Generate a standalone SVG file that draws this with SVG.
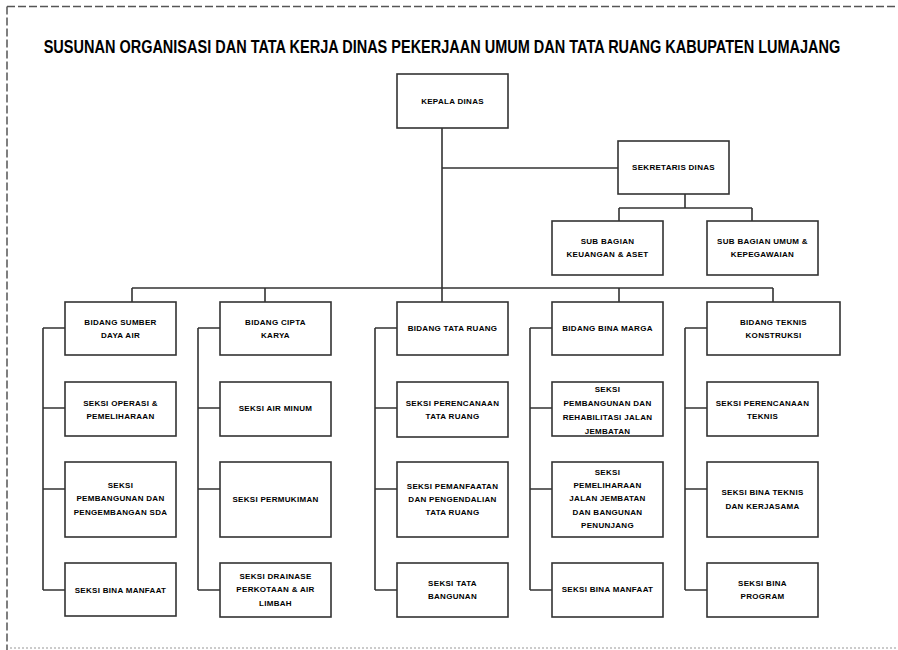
<svg xmlns="http://www.w3.org/2000/svg" width="898" height="650" viewBox="0 0 898 650">
<style>
.frame{fill:none;stroke:#555;stroke-width:1.5;stroke-dasharray:8 3}
.dot{fill:none;stroke:#bbb;stroke-width:1.5;stroke-dasharray:2 2}
.box{fill:#fff;stroke:#333;stroke-width:1.6}
.ln{fill:none;stroke:#333;stroke-width:1.6}
.t{font-family:"Liberation Sans",Arial,sans-serif;font-size:8px;font-weight:bold;letter-spacing:0.3px;text-anchor:middle;dominant-baseline:central;fill:#000}
.title{font-family:"Liberation Sans",Arial,sans-serif;font-size:14.5px;font-weight:bold;text-anchor:middle;fill:#000}
</style>
<rect width="898" height="650" fill="#fff"/>
<line class="frame" x1="7" y1="6.5" x2="898" y2="6.5"/>
<line class="frame" x1="7" y1="6.5" x2="7" y2="650"/>
<line class="dot" x1="10" y1="648" x2="898" y2="648"/>
<g transform="translate(442,53) scale(1,1.25)"><text class="title" x="0" y="0">SUSUNAN ORGANISASI DAN TATA KERJA DINAS PEKERJAAN UMUM DAN TATA RUANG KABUPATEN LUMAJANG</text></g>

<g id="connectors">
<path class="ln" d="M442,128 V302 M442,168 H618 M685,194 V208 M619,208 H752 M619,208 V221 M752,208 V221 M132,288 H773 M132,288 V302 M265,288 V302 M619,288 V302 M773,288 V302"/>
<path class="ln" d="M43,328 V590 M43,328 H65 M43,408 H65 M43,489 H65 M43,590 H65"/>
<path class="ln" d="M198,328 V590 M198,328 H220 M198,408 H220 M198,489 H220 M198,590 H220"/>
<path class="ln" d="M375,328 V590 M375,328 H397 M375,408 H397 M375,489 H397 M375,590 H397"/>
<path class="ln" d="M530,328 V590 M530,328 H552 M530,408 H552 M530,489 H552 M530,590 H552"/>
<path class="ln" d="M685,328 V590 M685,328 H707 M685,408 H707 M685,489 H707 M685,590 H707"/>
</g>

<g id="kepala"><rect class="box" x="397" y="74" width="111" height="54"/><text class="t" x="452.5" y="101">KEPALA DINAS</text></g>
<g id="sekretaris"><rect class="box" x="618" y="141" width="111" height="53"/><text class="t" x="673.5" y="167.5">SEKRETARIS DINAS</text></g>
<g id="subkeu"><rect class="box" x="552" y="221" width="111" height="54"/><text class="t" x="607.5" y="241.5">SUB BAGIAN</text><text class="t" x="607.5" y="254.5">KEUANGAN &amp; ASET</text></g>
<g id="subumum"><rect class="box" x="707" y="221" width="111" height="54"/><text class="t" x="762.5" y="241.5">SUB BAGIAN UMUM &amp;</text><text class="t" x="762.5" y="254.5">KEPEGAWAIAN</text></g>

<g id="bidang-sda"><rect class="box" x="65" y="302" width="111" height="53"/><text class="t" x="120.5" y="322">BIDANG SUMBER</text><text class="t" x="120.5" y="335">DAYA AIR</text></g>
<g id="sda-1"><rect class="box" x="65" y="382" width="111" height="54"/><text class="t" x="120.5" y="403">SEKSI OPERASI &amp;</text><text class="t" x="120.5" y="416">PEMELIHARAAN</text></g>
<g id="sda-2"><rect class="box" x="65" y="462" width="111" height="75"/><text class="t" x="120.5" y="485">SEKSI</text><text class="t" x="120.5" y="498.5">PEMBANGUNAN DAN</text><text class="t" x="120.5" y="512">PENGEMBANGAN SDA</text></g>
<g id="sda-3"><rect class="box" x="65" y="563" width="111" height="53"/><text class="t" x="120.5" y="590">SEKSI BINA MANFAAT</text></g>

<g id="bidang-ck"><rect class="box" x="220" y="302" width="111" height="53"/><text class="t" x="275.5" y="322">BIDANG CIPTA</text><text class="t" x="275.5" y="335">KARYA</text></g>
<g id="ck-1"><rect class="box" x="220" y="382" width="111" height="54"/><text class="t" x="275.5" y="408">SEKSI AIR MINUM</text></g>
<g id="ck-2"><rect class="box" x="220" y="462" width="111" height="75"/><text class="t" x="275.5" y="499">SEKSI PERMUKIMAN</text></g>
<g id="ck-3"><rect class="box" x="220" y="563" width="111" height="54"/><text class="t" x="275.5" y="576">SEKSI DRAINASE</text><text class="t" x="275.5" y="589.5">PERKOTAAN &amp; AIR</text><text class="t" x="275.5" y="603">LIMBAH</text></g>

<g id="bidang-tr"><rect class="box" x="397" y="302" width="111" height="53"/><text class="t" x="452.5" y="328">BIDANG TATA RUANG</text></g>
<g id="tr-1"><rect class="box" x="397" y="382" width="111" height="55"/><text class="t" x="452.5" y="403">SEKSI PERENCANAAN</text><text class="t" x="452.5" y="416">TATA RUANG</text></g>
<g id="tr-2"><rect class="box" x="397" y="462" width="111" height="75"/><text class="t" x="452.5" y="486">SEKSI PEMANFAATAN</text><text class="t" x="452.5" y="499">DAN PENGENDALIAN</text><text class="t" x="452.5" y="512">TATA RUANG</text></g>
<g id="tr-3"><rect class="box" x="397" y="563" width="111" height="54"/><text class="t" x="452.5" y="583">SEKSI TATA</text><text class="t" x="452.5" y="596">BANGUNAN</text></g>

<g id="bidang-bm"><rect class="box" x="552" y="302" width="111" height="53"/><text class="t" x="607.5" y="328">BIDANG BINA MARGA</text></g>
<g id="bm-1"><rect class="box" x="552" y="382" width="111" height="54"/><text class="t" x="607.5" y="389">SEKSI</text><text class="t" x="607.5" y="403">PEMBANGUNAN DAN</text><text class="t" x="607.5" y="417">REHABILITASI JALAN</text><text class="t" x="607.5" y="431">JEMBATAN</text></g>
<g id="bm-2"><rect class="box" x="552" y="462" width="111" height="75"/><text class="t" x="607.5" y="472">SEKSI</text><text class="t" x="607.5" y="485">PEMELIHARAAN</text><text class="t" x="607.5" y="498.5">JALAN JEMBATAN</text><text class="t" x="607.5" y="512">DAN BANGUNAN</text><text class="t" x="607.5" y="525">PENUNJANG</text></g>
<g id="bm-3"><rect class="box" x="552" y="563" width="111" height="54"/><text class="t" x="607.5" y="589">SEKSI BINA MANFAAT</text></g>

<g id="bidang-tk"><rect class="box" x="707" y="302" width="133" height="53"/><text class="t" x="773.5" y="322">BIDANG TEKNIS</text><text class="t" x="773.5" y="335">KONSTRUKSI</text></g>
<g id="tk-1"><rect class="box" x="707" y="382" width="111" height="54"/><text class="t" x="762.5" y="403">SEKSI PERENCANAAN</text><text class="t" x="762.5" y="416">TEKNIS</text></g>
<g id="tk-2"><rect class="box" x="707" y="462" width="111" height="75"/><text class="t" x="762.5" y="492">SEKSI BINA TEKNIS</text><text class="t" x="762.5" y="506">DAN KERJASAMA</text></g>
<g id="tk-3"><rect class="box" x="707" y="563" width="111" height="54"/><text class="t" x="762.5" y="583">SEKSI BINA</text><text class="t" x="762.5" y="596">PROGRAM</text></g>
</svg>
